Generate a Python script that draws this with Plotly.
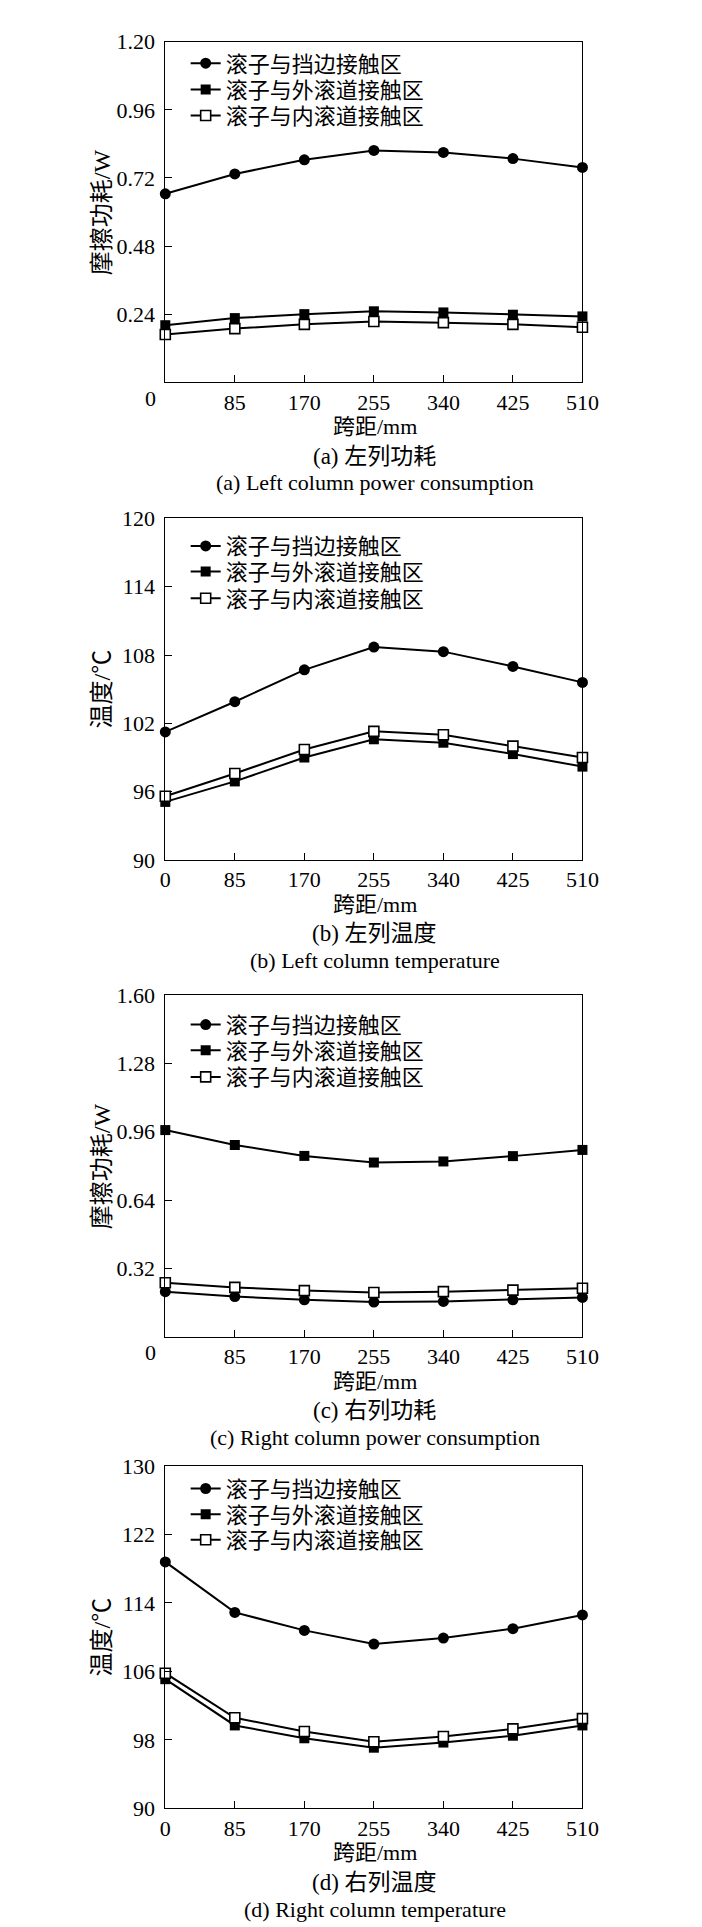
import plotly.graph_objects as go

W, H = 702, 1927

# ---------------- data ----------------
x_span = [0, 85, 170, 255, 340, 425, 510]
x_ticktext_full = ["0", "85", "170", "255", "340", "425", "510"]
x_ticktext_noorigin = ["", "85", "170", "255", "340", "425", "510"]

series_names = ["滚子与挡边接触区", "滚子与外滚道接触区", "滚子与内滚道接触区"]

# (a) left column power consumption, W
a_rib = [0.664, 0.734, 0.784, 0.817, 0.810, 0.788, 0.757]
a_outer = [0.201, 0.226, 0.240, 0.250, 0.246, 0.238, 0.232]
a_inner = [0.168, 0.189, 0.204, 0.214, 0.210, 0.204, 0.194]

# (b) left column temperature, degC
b_rib = [101.25, 103.9, 106.7, 108.7, 108.3, 107.0, 105.6]
b_outer = [95.1, 96.9, 99.0, 100.6, 100.3, 99.3, 98.2]
b_inner = [95.6, 97.6, 99.7, 101.3, 101.0, 100.0, 99.0]

# (c) right column power consumption, W
c_rib = [0.211, 0.188, 0.173, 0.162, 0.165, 0.173, 0.184]
c_outer = [0.968, 0.898, 0.847, 0.816, 0.821, 0.846, 0.875]
c_inner = [0.253, 0.231, 0.216, 0.207, 0.211, 0.218, 0.227]

# (d) right column temperature, degC
d_rib = [118.8, 112.9, 110.8, 109.2, 109.9, 111.0, 112.6]
d_outer = [105.1, 99.7, 98.2, 97.1, 97.7, 98.5, 99.7]
d_inner = [105.8, 100.6, 99.0, 97.8, 98.4, 99.3, 100.5]

a_yticks = [0.24, 0.48, 0.72, 0.96, 1.20]
a_yticktext = ["0.24", "0.48", "0.72", "0.96", "1.20"]
b_yticks = [90, 96, 102, 108, 114, 120]
b_yticktext = ["90", "96", "102", "108", "114", "120"]
c_yticks = [0.32, 0.64, 0.96, 1.28, 1.60]
c_yticktext = ["0.32", "0.64", "0.96", "1.28", "1.60"]
d_yticks = [90, 98, 106, 114, 122, 130]
d_yticktext = ["90", "98", "106", "114", "122", "130"]

y_titles = ["摩擦功耗/W", "温度/℃", "摩擦功耗/W", "温度/℃"]
captions_cn = ["(a) 左列功耗", "(b) 左列温度", "(c) 右列功耗", "(d) 右列温度"]
captions_en = ["(a) Left column power consumption", "(b) Left column temperature",
               "(c) Right column power consumption", "(d) Right column temperature"]
x_title = "跨距/mm"

# ---------------- layout geometry (pixels) ----------------
FONT = "'Liberation Serif', 'Noto Sans CJK SC', serif"
PX_L, PX_R = 157, 587
panels = [
    dict(top=22, bottom=367, yr=[0, 1.2], yt=a_yticks, ytt=a_yticktext, xtt=x_ticktext_noorigin,
         data=[a_rib, a_outer, a_inner], origin=True, rows=[44, 70.5, 97]),
    dict(top=505, bottom=851, yr=[90, 120], yt=b_yticks, ytt=b_yticktext, xtt=x_ticktext_full,
         data=[b_rib, b_outer, b_inner], origin=False, rows=[533, 559, 586]),
    dict(top=988, bottom=1334, yr=[0, 1.6], yt=c_yticks, ytt=c_yticktext, xtt=x_ticktext_noorigin,
         data=[c_rib, c_outer, c_inner], origin=True, rows=[1018, 1044, 1071]),
    dict(top=1465, bottom=1812, yr=[90, 130], yt=d_yticks, ytt=d_yticktext, xtt=x_ticktext_full,
         data=[d_rib, d_outer, d_inner], origin=False, rows=[1488, 1514, 1540]),
]


def py(y):
    return 1 - y / H


def px(x):
    return x / W


marker_styles = [
    dict(symbol="circle", size=11, color="black"),
    dict(symbol="square", size=10, color="black"),
    dict(symbol="square", size=10, color="white", line=dict(color="black", width=1.6)),
]

fig = go.Figure()
annotations = []
layout_updates = {}
leg_idx = 0

for i, p in enumerate(panels):
    n = "" if i == 0 else str(i + 1)
    xa, ya = "x" + n, "y" + n
    for k, vals in enumerate(p["data"]):
        leg_idx += 1
        leg = "legend" if leg_idx == 1 else "legend" + str(leg_idx)
        fig.add_trace(go.Scatter(
            x=x_span, y=vals, name=series_names[k], mode="lines+markers",
            line=dict(color="black", width=2), marker=marker_styles[k],
            xaxis=xa, yaxis=ya, legend=leg, cliponaxis=False, showlegend=True,
        ))
        layout_updates[leg] = dict(
            x=px(178), y=py(p["rows"][k]), xanchor="left", yanchor="middle",
            bgcolor="rgba(0,0,0,0)", font=dict(family=FONT, size=22, color="black"),
            itemwidth=30, borderwidth=0, visible=True)
    axis_common = dict(showline=True, linecolor="black", linewidth=1, mirror=True,
                       showgrid=False, zeroline=False, ticks="inside", ticklen=7,
                       tickcolor="black", tickwidth=1,
                       tickfont=dict(family=FONT, size=22, color="black"))
    layout_updates["xaxis" + n] = dict(
        domain=[px(PX_L), px(PX_R)], range=[0, 510], anchor=ya,
        tickvals=x_span, ticktext=p["xtt"], **axis_common)
    layout_updates["yaxis" + n] = dict(
        domain=[py(p["bottom"]), py(p["top"])], range=p["yr"], anchor=xa,
        tickvals=p["yt"], ticktext=p["ytt"], ticklabelstandoff=5, **axis_common)

    # axis titles and captions
    yc = (p["top"] + p["bottom"]) / 2
    annotations.append(dict(text=y_titles[i], x=px(92), y=py(yc), xref="paper", yref="paper",
                            textangle=-90, showarrow=False, xanchor="center", yanchor="middle",
                            font=dict(family=FONT, size=24, color="black")))
    b = p["bottom"]
    annotations.append(dict(text=x_title, x=px(373), y=py(b + 45), xref="paper", yref="paper",
                            showarrow=False, xanchor="center", yanchor="middle",
                            font=dict(family=FONT, size=22, color="black")))
    annotations.append(dict(text=captions_cn[i], x=px(373), y=py(b + 75), xref="paper", yref="paper",
                            showarrow=False, xanchor="center", yanchor="middle",
                            font=dict(family=FONT, size=23, color="black")))
    annotations.append(dict(text=captions_en[i], x=px(373), y=py(b + 102), xref="paper", yref="paper",
                            showarrow=False, xanchor="center", yanchor="middle",
                            font=dict(family=FONT, size=22, color="black")))
    if p["origin"]:
        annotations.append(dict(text="0", x=px(142), y=py(b + 16), xref="paper", yref="paper",
                                showarrow=False, xanchor="center", yanchor="middle",
                                font=dict(family=FONT, size=22, color="black")))

fig.update_layout(
    width=W, height=H, margin=dict(l=0, r=0, t=0, b=0, pad=0),
    paper_bgcolor="white", plot_bgcolor="white", showlegend=True,
    annotations=annotations, **layout_updates,
)

fig.write_html("out.html")
